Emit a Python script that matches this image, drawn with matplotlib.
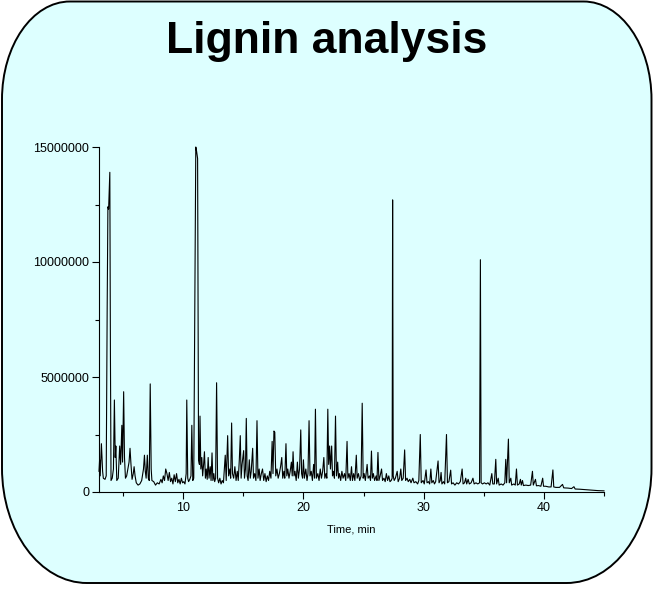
import matplotlib
matplotlib.use("Agg")
import matplotlib.pyplot as plt
from matplotlib.patches import PathPatch
from matplotlib.path import Path

plt.rcParams["font.family"] = ["Liberation Sans", "DejaVu Sans"]

title = "Lignin analysis"
x_label = "Time, min"

# retention time (min) and detector signal (millions of counts)
times = [
    3.0, 3.05, 3.1, 3.2, 3.3, 3.36, 3.5, 3.6, 3.68, 3.74, 3.8, 3.9, 3.95, 4.0, 4.1, 4.2,
    4.28, 4.35, 4.4, 4.48, 4.6, 4.72, 4.8, 4.9, 4.96, 5.05, 5.12, 5.2, 5.3, 5.4, 5.5, 5.58,
    5.66, 5.75, 5.85, 5.92, 6.0, 6.1, 6.25, 6.4, 6.55, 6.7, 6.78, 6.85, 6.92, 7.02, 7.1, 7.18,
    7.26, 7.34, 7.4, 7.55, 7.7, 7.85, 8.0, 8.15, 8.25, 8.35, 8.45, 8.55, 8.65, 8.75, 8.85, 8.95,
    9.05, 9.15, 9.25, 9.35, 9.45, 9.55, 9.65, 9.75, 9.85, 9.95, 10.05, 10.15, 10.25, 10.3, 10.38, 10.45,
    10.55, 10.65, 10.72, 10.8, 10.88, 10.98, 11.05, 11.12, 11.2, 11.28, 11.35, 11.4, 11.47, 11.55, 11.62, 11.7,
    11.77, 11.85, 11.92, 12.0, 12.08, 12.15, 12.25, 12.32, 12.4, 12.47, 12.55, 12.62, 12.7, 12.78, 12.86, 12.95,
    13.05, 13.15, 13.25, 13.35, 13.5, 13.58, 13.7, 13.78, 13.88, 13.95, 14.03, 14.1, 14.2, 14.3, 14.4, 14.5,
    14.58, 14.67, 14.75, 14.82, 14.9, 15.03, 15.1, 15.18, 15.25, 15.32, 15.4, 15.5, 15.58, 15.66, 15.78, 15.85,
    15.95, 16.05, 16.14, 16.22, 16.32, 16.4, 16.5, 16.6, 16.7, 16.8, 16.9, 17.0, 17.1, 17.2, 17.3, 17.4,
    17.47, 17.55, 17.62, 17.7, 17.8, 17.9, 18.0, 18.1, 18.2, 18.28, 18.38, 18.45, 18.55, 18.62, 18.7, 18.8,
    18.9, 19.0, 19.07, 19.14, 19.22, 19.3, 19.4, 19.5, 19.58, 19.68, 19.78, 19.85, 19.93, 20.0, 20.08, 20.2,
    20.3, 20.38, 20.47, 20.55, 20.65, 20.75, 20.85, 20.93, 21.0, 21.08, 21.2, 21.3, 21.4, 21.5, 21.6, 21.7,
    21.78, 21.88, 21.95, 22.03, 22.1, 22.18, 22.25, 22.35, 22.42, 22.5, 22.58, 22.67, 22.75, 22.85, 22.92, 23.0,
    23.1, 23.2, 23.3, 23.42, 23.52, 23.63, 23.7, 23.8, 23.9, 24.0, 24.08, 24.18, 24.28, 24.4, 24.47, 24.58,
    24.68, 24.8, 24.89, 24.97, 25.05, 25.15, 25.3, 25.38, 25.5, 25.58, 25.66, 25.73, 25.82, 25.92, 26.05, 26.12,
    26.2, 26.28, 26.38, 26.5, 26.58, 26.7, 26.8, 26.9, 27.0, 27.1, 27.2, 27.3, 27.38, 27.42, 27.47, 27.55,
    27.65, 27.8, 27.88, 28.0, 28.1, 28.18, 28.3, 28.42, 28.5, 28.62, 28.72, 28.85, 28.95, 29.1, 29.2, 29.35,
    29.5, 29.6, 29.72, 29.8, 29.95, 30.05, 30.2, 30.28, 30.4, 30.5, 30.6, 30.68, 30.8, 30.9, 31.0, 31.2,
    31.28, 31.38, 31.45, 31.52, 31.65, 31.75, 31.9, 31.98, 32.1, 32.25, 32.32, 32.45, 32.6, 32.75, 32.9, 33.05,
    33.2, 33.28, 33.4, 33.5, 33.58, 33.7, 33.8, 33.95, 34.1, 34.2, 34.35, 34.5, 34.65, 34.72, 34.78, 34.9,
    35.05, 35.2, 35.35, 35.5, 35.67, 35.75, 35.88, 36.0, 36.07, 36.2, 36.28, 36.45, 36.6, 36.75, 36.83, 36.9,
    37.05, 37.12, 37.25, 37.32, 37.5, 37.62, 37.72, 37.8, 37.95, 38.05, 38.12, 38.22, 38.3, 38.5, 38.7, 38.9,
    39.05, 39.12, 39.3, 39.38, 39.55, 39.75, 39.9, 39.97, 40.15, 40.4, 40.6, 40.75, 40.82, 41.0, 41.3, 41.55,
    41.65, 42.0, 42.3, 42.5, 42.6, 43.0, 43.5, 44.0, 44.5, 45.0,
]

signal_m = [
    0.9, 1.4, 0.7, 2.1, 0.9, 0.6, 0.55, 0.7, 8.0, 12.4, 12.3, 13.9, 6.0, 0.5, 0.6, 1.0,
    4.0, 1.5, 2.0, 0.5, 0.6, 2.0, 1.2, 2.9, 1.3, 4.36, 1.5, 0.6, 0.7, 1.0, 1.3, 1.9,
    1.2, 0.55, 0.8, 1.1, 0.7, 0.4, 0.3, 0.35, 0.5, 1.0, 1.6, 0.9, 0.6, 1.6, 0.6, 0.5,
    4.7, 1.0, 0.5, 0.45, 0.3, 0.4, 0.35, 0.55, 0.4, 0.7, 0.5, 1.0, 0.8, 0.5, 0.85, 0.45,
    0.6, 0.35, 0.75, 0.45, 0.8, 0.4, 0.55, 0.35, 0.6, 0.4, 0.45, 0.35, 0.8, 4.0, 0.6, 0.45,
    0.55, 0.7, 2.9, 0.5, 0.6, 9.0, 15.0, 14.8, 14.5, 1.4, 1.2, 3.3, 1.0, 1.5, 0.7, 1.2,
    1.75, 0.6, 1.0, 0.55, 1.5, 0.6, 1.1, 0.5, 1.7, 0.5, 0.8, 0.45, 0.6, 4.75, 0.6, 0.4,
    0.6, 0.35, 0.5, 0.4, 1.6, 0.5, 2.45, 0.7, 1.0, 0.6, 3.0, 0.8, 0.6, 1.1, 0.5, 0.9,
    0.5, 1.4, 2.45, 0.6, 1.2, 1.8, 0.6, 1.0, 3.2, 0.7, 0.5, 1.4, 0.6, 0.9, 1.9, 0.6,
    0.8, 0.5, 3.1, 0.6, 1.0, 0.5, 0.8, 1.0, 0.5, 0.8, 0.45, 0.7, 0.5, 0.9, 0.6, 2.2,
    0.8, 2.65, 2.6, 0.7, 1.0, 0.6, 0.8, 1.1, 1.5, 0.6, 0.9, 0.6, 2.1, 0.7, 1.0, 0.6,
    0.9, 1.3, 0.7, 1.75, 0.7, 0.9, 0.5, 1.3, 0.6, 1.0, 2.7, 0.8, 0.6, 1.4, 0.6, 1.0,
    0.5, 0.8, 3.1, 0.7, 0.9, 0.5, 1.2, 0.6, 3.6, 0.6, 0.8, 0.5, 1.0, 0.6, 0.9, 1.5,
    0.6, 0.8, 0.6, 3.6, 1.2, 2.0, 1.0, 2.0, 0.7, 0.9, 0.6, 3.3, 0.7, 1.3, 0.6, 0.8,
    0.5, 0.9, 0.6, 0.8, 0.5, 2.2, 0.6, 0.8, 0.5, 1.1, 0.5, 0.8, 0.5, 1.6, 0.6, 0.8,
    0.5, 0.7, 3.86, 0.6, 0.8, 0.5, 1.2, 0.6, 0.7, 0.5, 1.78, 0.6, 0.8, 0.5, 0.7, 0.5,
    1.72, 0.5, 0.7, 1.0, 0.5, 0.6, 0.45, 0.8, 0.5, 0.7, 0.45, 0.5, 0.6, 12.7, 0.7, 0.5,
    0.6, 0.9, 0.45, 0.6, 1.0, 0.5, 0.6, 1.83, 0.5, 0.6, 0.45, 0.55, 0.4, 0.6, 0.4, 0.45,
    0.35, 0.5, 2.5, 0.4, 0.5, 0.35, 0.96, 0.4, 0.45, 0.35, 1.0, 0.4, 0.5, 0.35, 0.45, 1.35,
    0.4, 0.5, 0.85, 0.35, 0.45, 0.35, 2.5, 0.4, 0.45, 0.95, 0.35, 0.4, 0.3, 0.4, 0.35, 0.45,
    1.0, 0.35, 0.4, 0.6, 0.35, 0.55, 0.35, 0.4, 0.6, 0.35, 0.4, 0.35, 0.4, 10.1, 0.4, 0.35,
    0.4, 0.35, 0.4, 0.3, 0.8, 0.35, 0.35, 1.42, 0.35, 0.6, 0.3, 0.35, 0.3, 0.4, 1.42, 0.4,
    2.3, 0.4, 0.6, 0.3, 0.35, 0.3, 1.0, 0.3, 0.35, 0.55, 0.3, 0.5, 0.28, 0.3, 0.28, 0.3,
    0.9, 0.3, 0.55, 0.27, 0.28, 0.25, 0.6, 0.25, 0.25, 0.22, 0.22, 0.96, 0.22, 0.2, 0.2, 0.33,
    0.18, 0.17, 0.15, 0.23, 0.13, 0.12, 0.1, 0.08, 0.06, 0.05,
]

x_ticks = [10, 20, 30, 40]
x_minor = [5, 15, 25, 35, 45]
y_ticks = [0, 5000000, 10000000, 15000000]
y_tick_labels = ["0", "5000000", "10000000", "15000000"]
y_minor = [2500000, 7500000, 12500000]

W, H = 654, 591


def rounded_panel(x0, y0, x1, y1, top_rx, top_ry, bot_rx, bot_ry):
    # rectangle with elliptical corners, y axis pointing down (pixel units)
    k = 0.5523
    verts = [
        (x0 + top_rx, y0),
        (x1 - top_rx, y0),
        (x1 - top_rx + k * top_rx, y0), (x1, y0 + top_ry - k * top_ry), (x1, y0 + top_ry),
        (x1, y1 - bot_ry),
        (x1, y1 - bot_ry + k * bot_ry), (x1 - bot_rx + k * bot_rx, y1), (x1 - bot_rx, y1),
        (x0 + bot_rx, y1),
        (x0 + bot_rx - k * bot_rx, y1), (x0, y1 - bot_ry + k * bot_ry), (x0, y1 - bot_ry),
        (x0, y0 + top_ry),
        (x0, y0 + top_ry - k * top_ry), (x0 + top_rx - k * top_rx, y0), (x0 + top_rx, y0),
        (x0 + top_rx, y0),
    ]
    codes = [Path.MOVETO, Path.LINETO,
             Path.CURVE4, Path.CURVE4, Path.CURVE4,
             Path.LINETO,
             Path.CURVE4, Path.CURVE4, Path.CURVE4,
             Path.LINETO,
             Path.CURVE4, Path.CURVE4, Path.CURVE4,
             Path.LINETO,
             Path.CURVE4, Path.CURVE4, Path.CURVE4,
             Path.CLOSEPOLY]
    return Path(verts, codes)


fig = plt.figure(figsize=(W / 100, H / 100), dpi=100)

# rounded panel behind everything, drawn in pixel units
bg = fig.add_axes([0, 0, 1, 1])
bg.set_xlim(0, W)
bg.set_ylim(H, 0)
bg.axis("off")
panel = PathPatch(rounded_panel(2, 1.5, W - 2.5, 583, 68, 98, 85, 115),
                  facecolor="#DDFFFF", edgecolor="black", linewidth=1.4)
bg.add_patch(panel)
bg.text(W / 2, 41, title, ha="center", va="center", fontsize=32, fontweight="bold")

ax = fig.add_axes([99 / W, (H - 492) / H, 505 / W, 345 / H])
ax.set_facecolor("none")
signal = [v * 1e6 for v in signal_m]
ax.plot(times, signal, color="black", linewidth=0.8, clip_on=False)

ax.set_xlim(3, 45)
ax.set_ylim(0, 15000000)
ax.set_xticks(x_ticks)
ax.set_xticks(x_minor, minor=True)
ax.set_yticks(y_ticks)
ax.set_yticklabels(y_tick_labels)
ax.set_yticks(y_minor, minor=True)
ax.tick_params(which="major", length=5, width=0.8, labelsize=9, pad=2)
ax.tick_params(which="minor", length=3, width=0.8)
ax.spines["top"].set_visible(False)
ax.spines["right"].set_visible(False)
ax.set_xlabel(x_label, fontsize=8, labelpad=8)

fig.savefig("out.png", dpi=100)
